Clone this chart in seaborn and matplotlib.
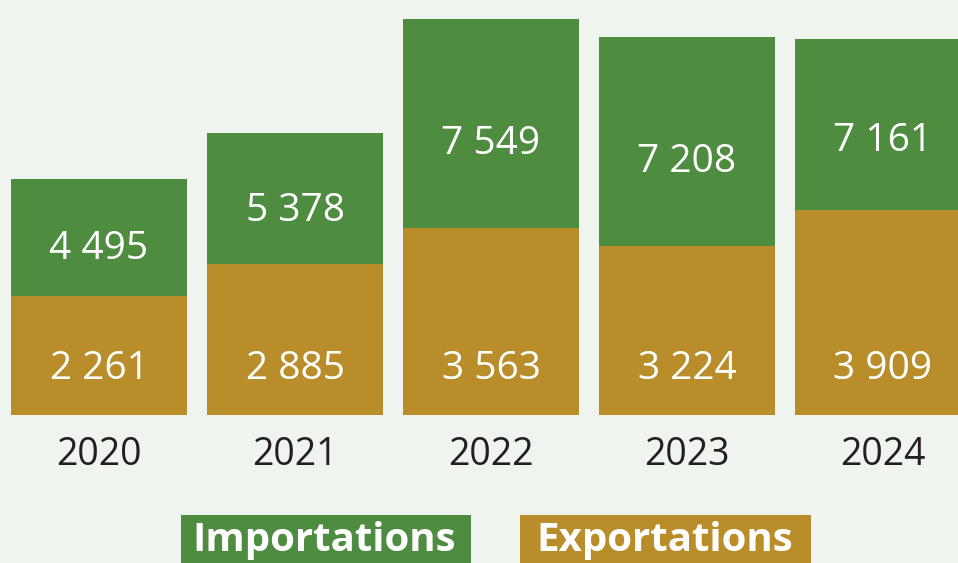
import pandas as pd
import matplotlib.pyplot as plt
import seaborn as sns
from matplotlib.patches import Rectangle

# données (en millions)
years = ['2020', '2021', '2022', '2023', '2024']
importations = [4495, 5378, 7549, 7208, 7161]
exportations = [2261, 2885, 3563, 3224, 3909]

df = pd.DataFrame({'annee': years, 'imp': importations, 'exp': exportations})

GREEN = '#4e8c40'
GOLD = '#b98e2a'
BG = '#eff4ef'
DARK = '#231f20'

sns.set_theme(style='white')
plt.rcParams['font.family'] = ['Open Sans', 'DejaVu Sans']


def fmt(v):
    return f'{v:,}'.replace(',', ' ')


fig = plt.figure(figsize=(9.58, 5.63), dpi=100, facecolor=BG)
ax = fig.add_axes([0, 148 / 563, 1, 415 / 563])
ax.set_facecolor(BG)

# barre pleine = importations, exportations superposées en bas
sns.barplot(data=df, x='annee', y='imp', color=GREEN, saturation=1, width=0.9,
            linewidth=0, ax=ax)
sns.barplot(data=df, x='annee', y='exp', color=GOLD, saturation=1, width=0.9,
            linewidth=0, ax=ax)

ax.set_xlim(-99 / 196, 859 / 196)
ax.set_ylim(0, 7905)

for i, (imp, exp) in enumerate(zip(importations, exportations)):
    ax.text(i, exp + 0.4 * (imp - exp), fmt(imp), ha='center', va='center',
            color='white', fontsize=28)
    ax.text(i, 870, fmt(exp), ha='center', va='center',
            color='white', fontsize=28)

for s in ax.spines.values():
    s.set_visible(False)
ax.set_yticks([])
ax.set_xlabel('')
ax.set_ylabel('')
ax.tick_params(axis='x', length=0, pad=15, labelsize=27, labelcolor=DARK)
for lab in ax.get_xticklabels():
    lab.set_fontweight('medium')

# légende
fig.add_artist(Rectangle((181 / 958, 0), 290 / 958, 48 / 563, transform=fig.transFigure,
                         facecolor=GREEN, edgecolor='none'))
fig.add_artist(Rectangle((520 / 958, 0), 291 / 958, 48 / 563, transform=fig.transFigure,
                         facecolor=GOLD, edgecolor='none'))
fig.text(324 / 958, 23 / 563, 'Importations', ha='center', va='center',
         color='white', fontsize=29, fontweight='bold')
fig.text(665 / 958, 23 / 563, 'Exportations', ha='center', va='center',
         color='white', fontsize=29, fontweight='bold')

plt.savefig('out.png', dpi=100, facecolor=BG)
